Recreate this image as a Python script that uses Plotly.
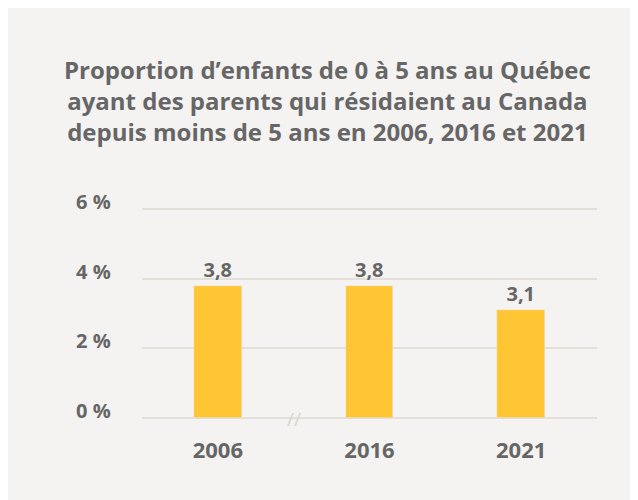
import plotly.graph_objects as go

years = ["2006", "2016", "2021"]
values = [3.8, 3.8, 3.1]
y_ticks = [0, 2, 4, 6]
y_tick_labels = ["0 %", "2 %", "4 %", "6 %"]
title_lines = [
    "Proportion d\u2019enfants de 0 à 5 ans au Québec",
    "ayant des parents qui résidaient au Canada",
    "depuis moins de 5 ans en 2006, 2016 et 2021",
]

TEXT = "#666666"
GRID = "#E4E0D9"
BG = "#F4F3F1"
BAR = "#FFC533"
FONT = "Open Sans"

W, H = 638, 500
L, R, T, B = 134, 49, 196, 90
pw, ph = W - L - R, H - T - B


def px_x(p):
    return (p - L) / pw


def px_y(p):
    return (H - B - p) / ph


fig = go.Figure()
fig.add_trace(go.Bar(
    x=years, y=values, marker_color=BAR, width=0.316,
    texttemplate="%{y:.1f}", textposition="outside", cliponaxis=False,
    textfont=dict(family=FONT, size=20, color=TEXT, weight="bold"),
    hoverinfo="skip",
))

fig.add_annotation(text="<br>".join(title_lines), xref="paper", yref="paper",
                   x=px_x(319), y=px_y(43), xanchor="center", yanchor="top",
                   showarrow=False, align="center",
                   font=dict(family=FONT, size=24, color=TEXT, weight="bold"))

for v, lab in zip(y_ticks, y_tick_labels):
    fig.add_annotation(text=lab, xref="paper", yref="y", x=px_x(105), y=v,
                       xanchor="right", yanchor="middle", yshift=7.5,
                       showarrow=False,
                       font=dict(family=FONT, size=20, color=TEXT, weight="bold"))

fig.add_annotation(text="//", x=0.5, y=0, xref="x", yref="y", showarrow=False,
                   font=dict(family=FONT, size=19, color="#D9D4CB"),
                   xanchor="center", yanchor="middle", yshift=-1)

fig.update_layout(
    width=W, height=H, margin=dict(l=L, r=R, t=T, b=B, autoexpand=False),
    paper_bgcolor=BG, plot_bgcolor=BG,
    separators=", ", showlegend=False, bargap=0,
    font=dict(family=FONT, color=TEXT),
)
fig.update_yaxes(range=[0, 6.15], tickvals=y_ticks, showticklabels=False,
                 showgrid=True, gridcolor=GRID, gridwidth=1.5,
                 zeroline=True, zerolinecolor=GRID, zerolinewidth=1.5)
fig.update_xaxes(showgrid=False, showline=False, ticks="", ticklabelstandoff=17,
                 tickfont=dict(family=FONT, size=22, color=TEXT, weight="bold"))

fig.write_html("out.html")
